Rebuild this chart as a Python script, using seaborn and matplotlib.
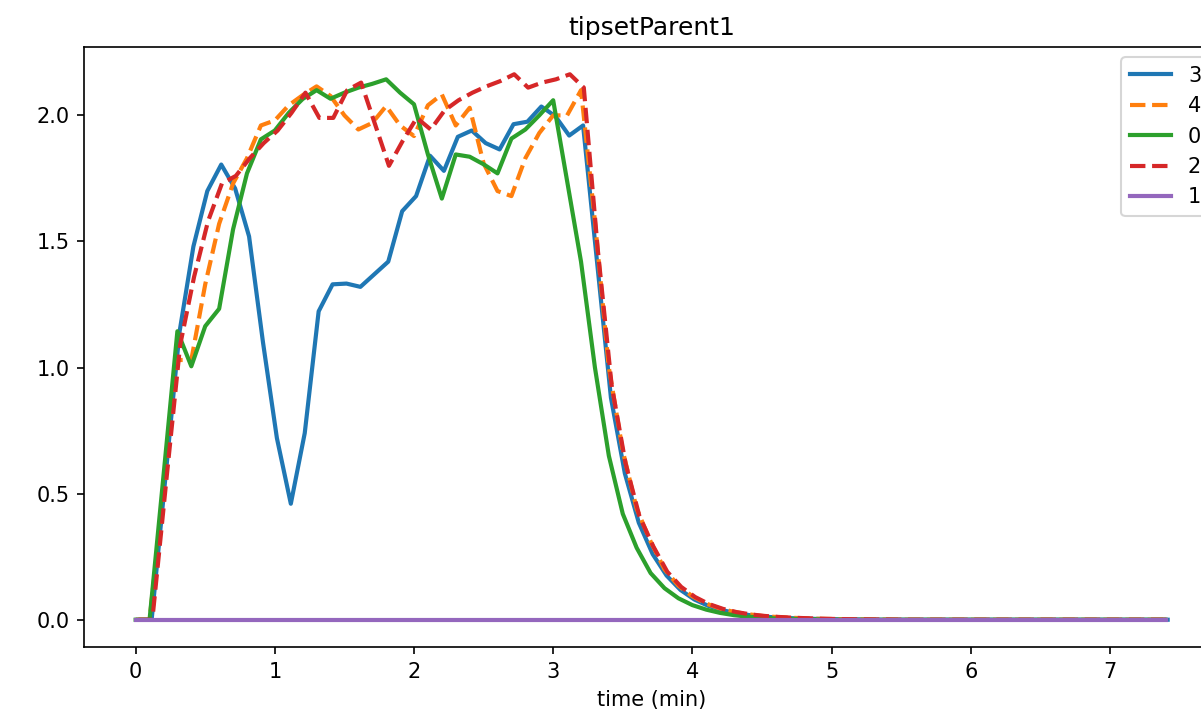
import numpy as np
import pandas as pd
import seaborn as sns
import matplotlib
matplotlib.use("Agg")
import matplotlib.pyplot as plt

# sample index -> minutes (one sample every 0.1 min)
n_samples = 75
step_min = 0.1

# series, in legend order
labels = ["3", "4", "0", "2", "1"]
offsets = [0.015, 0.0, 0.0, 0.02, 0.0]  # small per-series time offsets (min)
colors = ["#1f77b4", "#ff7f0e", "#2ca02c", "#d62728", "#9467bd"]
styles = ["-", "--", "-", "--", "-"]

s3 = [0, 0, 0.57, 1.14, 1.48, 1.70, 1.805, 1.71, 1.52, 1.10, 0.72, 0.46, 0.74,
      1.223, 1.33, 1.333, 1.32, 1.37, 1.42, 1.62, 1.68, 1.84, 1.78, 1.915, 1.94,
      1.89, 1.865, 1.965, 1.975, 2.035, 1.997, 1.92, 1.96, 1.42, 0.88, 0.58,
      0.385, 0.26, 0.175, 0.118, 0.08, 0.055, 0.038, 0.026, 0.018, 0.012, 0.009,
      0.006, 0.004, 0.003, 0.002, 0.001, 0.001]
s4 = [0, 0, 0.5, 1.03, 1.03, 1.33, 1.57, 1.73, 1.83, 1.96, 1.98, 2.04, 2.08,
      2.115, 2.077, 2.0, 1.944, 1.97, 2.037, 1.96, 1.918, 2.04, 2.083, 1.96,
      2.03, 1.81, 1.70, 1.68, 1.83, 1.93, 2.0, 2.0, 2.10, 1.58, 1.0, 0.67, 0.44,
      0.31, 0.20, 0.135, 0.093, 0.064, 0.044, 0.031, 0.022, 0.015, 0.011, 0.008,
      0.006, 0.004, 0.003, 0.002, 0.0015, 0.001, 0.0007]
s0 = [0, 0, 0.57, 1.144, 1.005, 1.164, 1.233, 1.548, 1.77, 1.905, 1.94, 2.01,
      2.065, 2.10, 2.066, 2.09, 2.11, 2.125, 2.143, 2.09, 2.044, 1.845, 1.67,
      1.845, 1.836, 1.806, 1.77, 1.908, 1.944, 2.0, 2.06, 1.74, 1.42, 1.0, 0.65,
      0.42, 0.285, 0.185, 0.125, 0.085, 0.058, 0.04, 0.027, 0.018, 0.012, 0.008,
      0.005, 0.0035, 0.0025, 0.0015, 0.001]
s2 = [0, 0, 0.55, 1.09, 1.36, 1.58, 1.73, 1.76, 1.83, 1.89, 1.94, 2.01, 2.09,
      1.99, 1.99, 2.10, 2.13, 1.965, 1.80, 1.90, 1.99, 1.944, 2.02, 2.06, 2.09,
      2.115, 2.136, 2.163, 2.11, 2.13, 2.143, 2.163, 2.11, 1.47, 0.93, 0.62,
      0.41, 0.29, 0.19, 0.13, 0.09, 0.062, 0.043, 0.03, 0.021, 0.015, 0.011,
      0.008, 0.006, 0.004, 0.003, 0.002, 0.0015, 0.001, 0.0007]
s1 = [0] * n_samples

series = [s3, s4, s0, s2, s1]

rows = []
for lab, off, vals in zip(labels, offsets, series):
    vals = list(vals) + [0] * (n_samples - len(vals))
    for i, v in enumerate(vals):
        rows.append({"run": lab, "time (min)": i * step_min + off, "value": v})
df = pd.DataFrame(rows)

fig = plt.figure(figsize=(1201 / 150, 719 / 150), dpi=150)
ax = fig.add_axes([84 / 1201, 72 / 719, 1136 / 1201, 600 / 719])

for lab, col, ls in zip(labels, colors, styles):
    sub = df[df["run"] == lab]
    sns.lineplot(data=sub, x="time (min)", y="value", color=col, linestyle=ls,
                 linewidth=2, label=lab, ax=ax)

ax.set_title("tipsetParent1")
ax.set_ylabel("")
ax.set_xlabel("time (min)")
ax.legend(loc="upper right")

fig.savefig("out.png", dpi=150)
